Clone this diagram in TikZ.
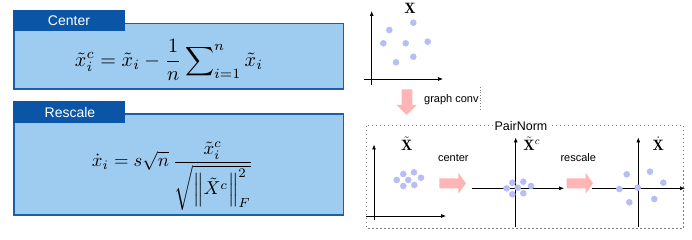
\documentclass[tikz,border=0pt]{standalone}
\usepackage{fontspec}
\usepackage{amsmath}
\usepackage{graphicx}
\newfontfamily\lsans{Liberation Sans}
\usetikzlibrary{arrows.meta}
\definecolor{boxfill}{HTML}{9DCCF0}
\definecolor{boxline}{HTML}{1A5EAE}
\definecolor{tabfill}{HTML}{0B55A6}
\definecolor{dotc}{HTML}{B9BDF6}
\definecolor{pinkc}{HTML}{FFB5B5}
\tikzset{
  fbox/.style={draw=boxline, line width=1.3pt, fill=boxfill},
  tabbox/.style={fill=tabfill, draw=none},
  tabtext/.style={text=white, font=\lsans\fontsize{14}{16}\selectfont, inner sep=0pt},
  formula/.style={inner sep=0pt},
  ax/.style={line width=0.7pt, -{Latex[length=5pt,width=4pt]}},
  pt/.style={circle, fill=dotc, inner sep=0pt, minimum size=6.6pt},
  plbl/.style={inner sep=0pt, font=\fontsize{15}{17}\selectfont},
  stxt/.style={inner sep=0pt, font=\lsans\fontsize{11}{13}\selectfont},
  pink/.style={fill=pinkc, draw=none},
}
\begin{document}
\begin{tikzpicture}[x=1pt,y=-1pt]
\useasboundingbox (0,0) rectangle (692,240);
% ---- Center box
\draw[fbox] (14,23.5) rectangle (343.5,89);
\fill[tabbox] (13.4,10) rectangle (125,31);
\node[tabtext] (ctab) at (69,21) {Center};
\node[formula] (cform) at (169,60) {\resizebox{188pt}{!}{$\displaystyle \tilde{x}_i^{c} = \tilde{x}_i - \frac{1}{n}\sum\nolimits_{i=1}^{n}\tilde{x}_i$}};
% ---- Rescale box
\draw[fbox] (14,114) rectangle (343.5,215);
\fill[tabbox] (13.4,101.5) rectangle (125,123);
\node[tabtext] (rtab) at (70,112.5) {Rescale};
\node[formula] (rform) at (172.5,176) {\resizebox{161pt}{!}{$\displaystyle \dot{x}_i = s\sqrt{n}\,\frac{\tilde{x}_i^{c}}{\sqrt{\left\|\tilde{X}^{c}\right\|_F^{2}}}$}};
% ---- top plot
\coordinate (ty0) at (371.7,85);
\coordinate (ty1) at (371.7,11);
\coordinate (tx0) at (364,79);
\coordinate (tx1) at (443,79);
\draw[ax] (ty0) -- (ty1);
\draw[ax] (tx0) -- (tx1);
\node[plbl] (lX) at (410,8.5) {$\mathbf{X}$};
\foreach \n/\x/\y in {a/389.3/30, b/413.3/22.7, c/383.3/43.3, d/405.7/43.3, e/427.7/41.7, f/413.3/56.7, g/396/62.3}
  \node[pt] (t\n) at (\x,\y) {};
% ---- down arrow
\fill[pink] (401.7,89.3) -- (412.3,89.3) -- (412.3,105) -- (416.7,105) -- (406.5,115) -- (396.7,105) -- (401.7,105) -- cycle;
\node[stxt, anchor=west] (gc) at (424,100) {graph conv};
\coordinate (gd0) at (480,87);
\coordinate (gd1) at (480,110);
\draw[gray, line width=0.7pt, dotted] (gd0) -- (gd1);
% ---- PairNorm frame
\draw[gray, line width=0.8pt, dash pattern=on 1.5pt off 2.5pt] (366.7,125.7) rectangle (683.3,228.3);
\node[stxt, fill=white, inner xsep=2pt, inner ysep=1pt, font=\lsans\fontsize{12.5}{14}\selectfont] (pn) at (521,125.7) {PairNorm};
% ---- plot 1
\coordinate (ay0) at (374,220);
\coordinate (ay1) at (374,144.5);
\coordinate (ax0) at (366,216);
\coordinate (ax1) at (446,216);
\draw[ax] (ay0) -- (ay1);
\draw[ax] (ax0) -- (ax1);
\node[plbl] (l1) at (406.7,143.3) {$\tilde{\mathbf{X}}$};
\foreach \n/\x/\y in {a/396.7/180, b/403.3/174, c/414/172.3, d/408.3/180, e/421/177.7, f/403.3/186, g/414.3/185}
  \node[pt] (p\n) at (\x,\y) {};
\node[stxt] (ctr) at (453.3,157.7) {center};
\fill[pink] (439.3,178.3) -- (458.3,178.3) -- (458.3,172.7) -- (466,183.3) -- (458.3,193.8) -- (458.3,188.3) -- (439.3,188.3) -- cycle;
% ---- plot 2
\coordinate (by0) at (515.7,226.7);
\coordinate (by1) at (515.7,137.5);
\coordinate (bx0) at (471.7,188.3);
\coordinate (bx1) at (564,188.3);
\draw[ax] (by0) -- (by1);
\draw[ax] (bx0) -- (bx1);
\node[plbl] (l2) at (531.7,143.3) {$\tilde{\mathbf{X}}^{c}$};
\foreach \n/\x/\y in {a/506.7/188.3, b/512.3/182.7, c/523.3/181.7, d/517.7/187.7, e/531/186, f/512.3/194.3, g/523.3/193.3}
  \node[pt] (q\n) at (\x,\y) {};
\node[stxt] (rsc) at (578.3,157.7) {rescale};
\fill[pink] (566.7,178.3) -- (585.5,178.3) -- (585.5,172.7) -- (593,183.3) -- (585.5,193.8) -- (585.5,188.3) -- (566.7,188.3) -- cycle;
% ---- plot 3
\coordinate (cy0) at (638.3,226.7);
\coordinate (cy1) at (638.3,137.5);
\coordinate (cx0) at (591.7,188.3);
\coordinate (cx1) at (685,188.3);
\draw[ax] (cy0) -- (cy1);
\draw[ax] (cx0) -- (cx1);
\node[plbl] (l3) at (658.3,143.3) {$\dot{\mathbf{X}}$};
\foreach \n/\x/\y in {a/619.3/189, b/626.7/174.3, c/637.7/187.7, d/650/171.7, e/663.3/182.7, f/629.3/202.3, g/654.3/199}
  \node[pt] (r\n) at (\x,\y) {};
\end{tikzpicture}
\end{document}
